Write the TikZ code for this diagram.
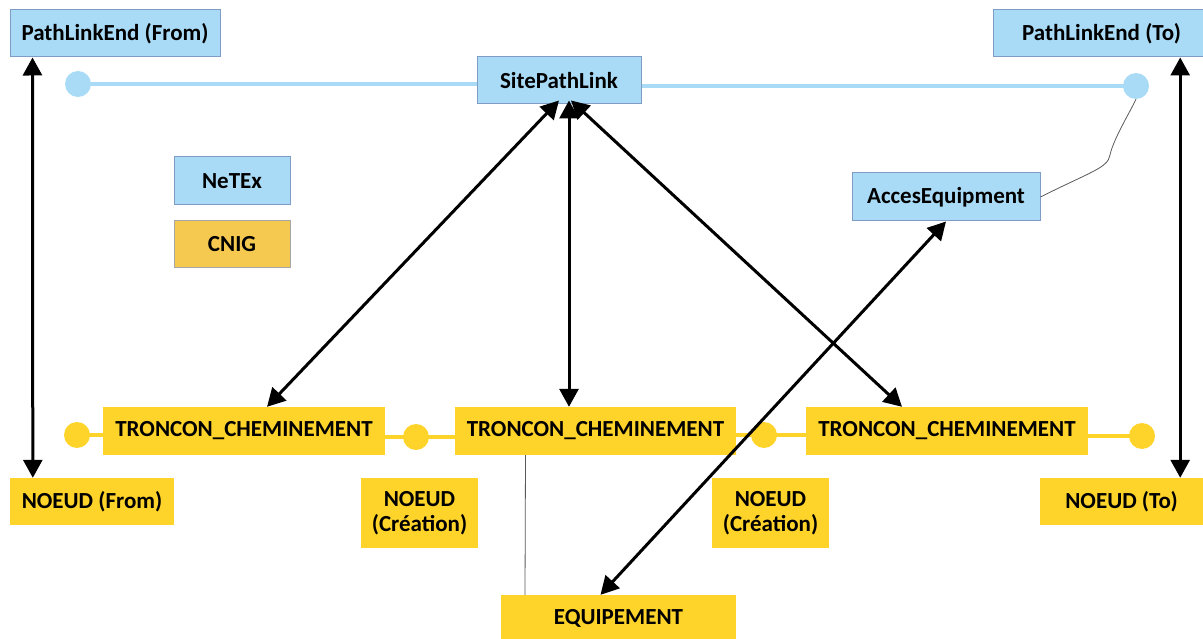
\documentclass[tikz,border=0pt]{standalone}
\usepackage{fontspec}
\setmainfont{Carlito}
\usetikzlibrary{arrows.meta, calc}
\definecolor{netexblue}{HTML}{A9DBF6}
\definecolor{netexedge}{HTML}{7F9CC4}
\definecolor{cnigyellow}{HTML}{FFD42A}
\definecolor{cnigorange}{HTML}{F5C94F}
\tikzset {
    netex box/.style = {draw = netexedge, fill = netexblue, line width = 1pt,
        font = \fontsize{23}{25}\selectfont\bfseries, inner sep = 0pt},
    cnig box/.style = {fill = cnigyellow, align = center,
        font = \fontsize{23}{25}\selectfont\bfseries, inner sep = 0pt},
    blue end/.style = {circle, fill = netexblue, minimum size = 26pt, inner sep = 0pt},
    yellow end/.style = {circle, fill = cnigyellow, minimum size = 26pt, inner sep = 0pt},
    blue link/.style = {draw = netexblue, line width = 4pt},
    yellow link/.style = {draw = cnigyellow, line width = 4pt},
    both way/.style = {line width = 3pt,
        arrows = {Triangle[length = 18pt, width = 19pt]-Triangle[length = 18pt, width = 19pt]}},
    thin link/.style = {draw = black!65, line width = 0.8pt}
}

\begin{document}
\begin{tikzpicture}[x = 1pt, y = -1pt]
    \useasboundingbox (0, 0) rectangle (1203, 639);
    % ends of the links
    \node [blue end] (b1) at (78, 84) {};
    \node [blue end] (b2) at (1136, 86) {};
    \node [yellow end] (y1) at (77, 435) {};
    \node [yellow end] (y2) at (416, 437) {};
    \node [yellow end] (y3) at (764, 435) {};
    \node [yellow end] (y4) at (1142, 436) {};
    % NeTEx side
    \node [netex box, minimum width = 210pt, minimum height = 47pt] (ple1) at (115, 33.5) {PathLinkEnd (From)};
    \node [netex box, minimum width = 217pt, minimum height = 47pt] (ple2) at (1101.5, 33.5) {PathLinkEnd (To)\hspace{17pt}};
    \node [netex box, minimum width = 164pt, minimum height = 47pt] (spl) at (559, 80.5) {SitePathLink};
    \node [netex box, minimum width = 116pt, minimum height = 48pt] (netex) at (232, 181) {NeTEx};
    \node [netex box, draw = black!35, fill = cnigorange, minimum width = 116pt, minimum height = 47pt] (cnig) at (232, 244.5) {CNIG};
    \node [netex box, minimum width = 188pt, minimum height = 48pt] (acc) at (946, 197) {AccesEquipment};
    % CNIG side
    \node [cnig box, minimum width = 282pt, minimum height = 48pt] (t1) at (244, 431) {TRONCON\_CHEMINEMENT};
    \node [cnig box, minimum width = 281pt, minimum height = 48pt] (t2) at (595.5, 431) {TRONCON\_CHEMINEMENT};
    \node [cnig box, minimum width = 282pt, minimum height = 48pt] (t3) at (947, 431) {TRONCON\_CHEMINEMENT};
    \node [cnig box, minimum width = 164pt, minimum height = 47pt] (nf) at (92, 501.5) {NOEUD (From)};
    \node [cnig box, minimum width = 117pt, minimum height = 70pt] (nc1) at (419.5, 513) {NOEUD\\(Création)};
    \node [cnig box, minimum width = 117pt, minimum height = 70pt] (nc2) at (770.5, 513) {NOEUD\\(Création)};
    \node [cnig box, minimum width = 163pt, minimum height = 47pt] (nt) at (1121.5, 501.5) {NOEUD (To)};
    \node [cnig box, minimum width = 235pt, minimum height = 46pt] (eq) at (618.5, 618) {EQUIPEMENT};

    \draw [blue link] (b1.center) -- (b1 -| spl.west);
    \draw [blue link] (spl.east |- b2) -- (b2.center);
    \draw [yellow link] (y1.center) -- (y1 -| t1.west);
    \draw [yellow link] (t1.east |- y2) -- (y2.center) -- (t2.west |- y2);
    \draw [yellow link] (t2.east |- y3) -- (y3.center) -- (t3.west |- y3);
    \draw [yellow link] (t3.east |- y4) -- (y4.center);

    \draw [thin link] (acc.east) .. controls (1090, 172) and (1108, 168) .. (1110, 155) .. controls (1113, 140) and (1130, 112) .. (b2.south);
    \draw [thin link] ([xshift = -70pt]t2.south) -- ([xshift = -93.5pt]eq.north);

    \draw [both way] ([xshift = 23pt]ple1.south west) -- ([xshift = 23pt]nf.north west);
    \draw [both way] ([xshift = -23pt]nt.north east |- ple2.south) -- ([xshift = -23pt]nt.north east);
    \draw [both way] ([yshift = 4pt]spl.south) -- (t1);
    \draw [both way] ([xshift = 10pt, yshift = 4pt]spl.south) -- ([xshift = -26.5pt]t2.north);
    \draw [both way] ([xshift = 12pt, yshift = 4pt]spl.south) -- ([xshift = -45pt]t3.north);
    \draw [both way] (acc.south) -- ([xshift = -18pt]eq.north);
\end{tikzpicture}
\end{document}
